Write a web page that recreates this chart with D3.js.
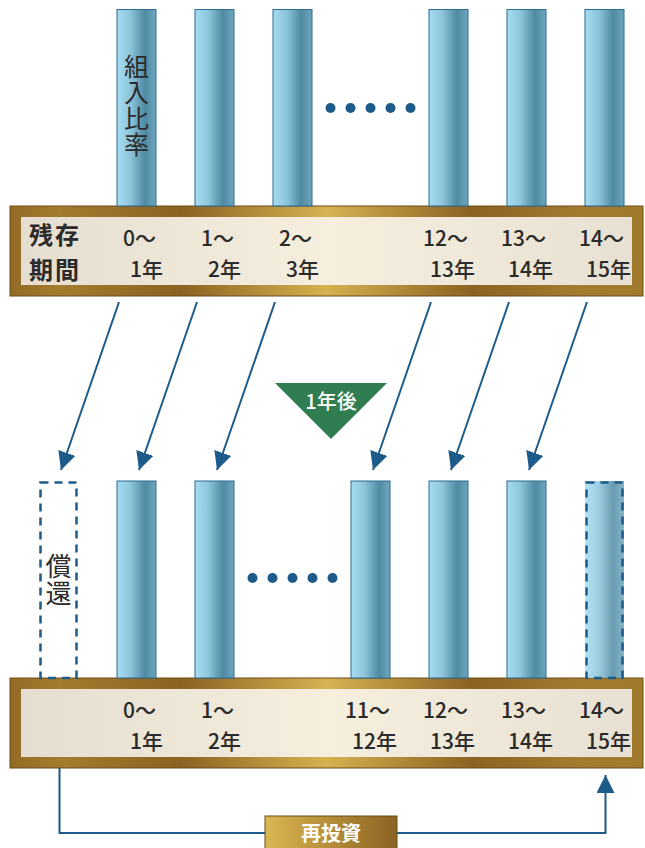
<!DOCTYPE html>
<html>
<head>
<meta charset="utf-8">
<script src="https://cdn.jsdelivr.net/npm/d3@7"></script>
<style>
  body { margin: 0; background: #fff; }
  svg { display: block; font-family: "Noto Sans CJK JP", "Noto Sans", sans-serif; }
</style>
</head>
<body>
<div id="chart"></div>
<script>
// slot index -> maturity bucket
var topSlots = [1, 2, 3, 5, 6, 7]
var topFrom = ['0～', '1～', '2～', '12～', '13～', '14～']
var topTo = ['1年', '2年', '3年', '13年', '14年', '15年']
var topWeights = [1, 1, 1, 1, 1, 1]

var bottomSlots = [1, 2, 4, 5, 6]
var bottomFrom = ['0～', '1～', '11～', '12～', '13～', '14～']
var bottomTo = ['1年', '2年', '12年', '13年', '14年', '15年']
var bottomLabelSlots = [1, 2, 4, 5, 6, 7]
var bottomWeights = [1, 1, 1, 1, 1]

var redeemSlot = 0
var reinvestSlot = 7
var arrowFrom = [1, 2, 3, 5, 6, 7]
var dotCount = 5

var width = 645
var height = 848
var barW = 39

var x = d3.scaleLinear().domain([0, 1]).range([39, 117])
var yTop = d3.scaleLinear().domain([0, 1]).range([206, 9.5])
var yBot = d3.scaleLinear().domain([0, 1]).range([678, 481])

var svg = d3.select('#chart').append('svg')
  .attr('width', width)
  .attr('height', height)

var defs = svg.append('defs')

function hGrad (id, stops) {
  defs.append('linearGradient')
    .attr('id', id)
    .attr('x1', '0%').attr('y1', '0%')
    .attr('x2', '100%').attr('y2', '0%')
    .selectAll('stop')
    .data(stops)
    .enter().append('stop')
    .attr('offset', function (d) { return d[0] })
    .attr('stop-color', function (d) { return d[1] })
}

hGrad('bar', [[0, '#a6ddf3'], [0.35, '#8cc4da'], [0.72, '#4f8aa3'], [1, '#6ea7be']])
hGrad('gold', [[0, '#946b26'], [0.08, '#a47c2f'], [0.27, '#8a6322'], [0.5, '#d6b251'], [0.73, '#8a6322'], [0.9, '#a47c30'], [1, '#a07a2d']])
hGrad('panel', [[0, '#e5ddd0'], [0.5, '#f6efde'], [1, '#e8e0d2']])
hGrad('btn', [[0, '#dbb753'], [0.5, '#b48c38'], [1, '#8a6424']])

defs.append('marker')
  .attr('id', 'head')
  .attr('viewBox', '0 0 10 10')
  .attr('refX', 10).attr('refY', 5)
  .attr('markerWidth', 18).attr('markerHeight', 18)
  .attr('markerUnits', 'userSpaceOnUse')
  .attr('orient', 'auto')
  .append('path')
  .attr('d', 'M0,0 L10,5 L0,10 Z')
  .attr('fill', '#1d5b8a')

var blue = '#1d5b8a'

// ---- bands
function band (y0) {
  var g = svg.append('g')
  g.append('rect')
    .attr('x', 10).attr('y', y0)
    .attr('width', 633).attr('height', 90)
    .attr('fill', 'url(#gold)')
    .attr('stroke', '#6e4d14').attr('stroke-width', 1)
  g.append('rect')
    .attr('x', 21).attr('y', y0 + 11)
    .attr('width', 611).attr('height', 68)
    .attr('fill', 'url(#panel)')
  return g
}

var topBand = band(206)
var botBand = band(678)

// ---- top bars
svg.append('g').selectAll('rect')
  .data(topWeights)
  .enter().append('rect')
  .attr('x', function (d, i) { return x(topSlots[i]) })
  .attr('y', function (d) { return yTop(d) })
  .attr('width', barW)
  .attr('height', function (d) { return yTop(0) - yTop(d) })
  .attr('fill', 'url(#bar)')
  .attr('stroke', '#2e6a92')
  .attr('stroke-width', 1)

// ---- bottom bars
svg.append('g').selectAll('rect')
  .data(bottomWeights)
  .enter().append('rect')
  .attr('x', function (d, i) { return x(bottomSlots[i]) })
  .attr('y', function (d) { return yBot(d) })
  .attr('width', barW)
  .attr('height', function (d) { return yBot(0) - yBot(d) })
  .attr('fill', 'url(#bar)')
  .attr('stroke', '#2e6a92')
  .attr('stroke-width', 1)

// redeemed (empty dashed)
svg.append('rect')
  .attr('x', x(redeemSlot) + 1.5).attr('y', yBot(1) + 1.5)
  .attr('width', barW - 3).attr('height', yBot(0) - yBot(1) - 1.5)
  .attr('fill', 'none')
  .attr('stroke', blue).attr('stroke-width', 2.5)
  .attr('stroke-dasharray', '8,6')

// reinvested (filled dashed)
svg.append('rect')
  .attr('x', x(reinvestSlot)).attr('y', yBot(1))
  .attr('width', barW).attr('height', yBot(0) - yBot(1))
  .attr('fill', 'url(#bar)').attr('opacity', 0.85)
svg.append('rect')
  .attr('x', x(reinvestSlot) + 1.5).attr('y', yBot(1) + 1.5)
  .attr('width', barW - 3).attr('height', yBot(0) - yBot(1) - 1.5)
  .attr('fill', 'none')
  .attr('stroke', blue).attr('stroke-width', 2.5)
  .attr('stroke-dasharray', '8,6')

// vertical texts
function vText (cx, y0, label, size) {
  svg.append('text')
    .attr('x', cx)
    .attr('y', y0)
    .attr('font-size', size)
    .attr('fill', '#2b2b2b')
    .style('writing-mode', 'vertical-rl')
    .style('text-orientation', 'upright')
    .style('letter-spacing', '1px')
    .text(label)
}
vText(x(1) + barW / 2, 54, '組入比率', 25)
vText(x(redeemSlot) + barW / 2, 553, '償還', 26)

// dots
svg.append('g').selectAll('circle')
  .data(d3.range(dotCount))
  .enter().append('circle')
  .attr('cx', function (d) { return x(4) + barW / 2 + (d - 2) * 20 })
  .attr('cy', 108)
  .attr('r', 5)
  .attr('fill', blue)
svg.append('g').selectAll('circle')
  .data(d3.range(dotCount))
  .enter().append('circle')
  .attr('cx', function (d) { return x(3) + barW / 2 + (d - 2) * 20 })
  .attr('cy', 578)
  .attr('r', 5)
  .attr('fill', blue)

// band heading (two lines)
var head = topBand.append('text')
  .attr('font-size', 24).attr('font-weight', 'bold').attr('fill', '#2b2b2b')
  .style('letter-spacing', '2px')
head.append('tspan').attr('x', 29).attr('y', 244).text('残存')
head.append('tspan').attr('x', 29).attr('y', 279).text('期間')

function bandLabels (g, slots, from, to, y1) {
  g.selectAll('.from')
    .data(from)
    .enter().append('text')
    .attr('x', function (d, i) { return x(slots[i]) + 39 })
    .attr('y', y1)
    .attr('text-anchor', 'end')
    .attr('font-size', 21).attr('font-weight', 500).attr('fill', '#2b2b2b')
    .text(function (d) { return d })
  g.selectAll('.to')
    .data(to)
    .enter().append('text')
    .attr('x', function (d, i) { return x(slots[i]) + 46 })
    .attr('y', y1 + 30.5)
    .attr('text-anchor', 'end')
    .attr('font-size', 21).attr('font-weight', 500).attr('fill', '#2b2b2b')
    .text(function (d) { return d })
}
bandLabels(topBand, topSlots, topFrom, topTo, 246)
bandLabels(botBand, bottomLabelSlots, bottomFrom, bottomTo, 718)

// aging arrows
svg.append('g').selectAll('line')
  .data(arrowFrom)
  .enter().append('line')
  .attr('x1', function (d) { return x(d) + 2 })
  .attr('y1', 302)
  .attr('x2', function (d) { return x(d - 1) + 22 })
  .attr('y2', 470)
  .attr('stroke', blue)
  .attr('stroke-width', 2)
  .attr('marker-end', 'url(#head)')

// 1年後 triangle
svg.append('path')
  .attr('d', 'M275,383 L387,383 L331,439 Z')
  .attr('fill', '#2f7d50')
svg.append('text')
  .attr('x', 331).attr('y', 409)
  .attr('text-anchor', 'middle')
  .attr('font-size', 20).attr('font-weight', 500).attr('fill', '#fff')
  .text('1年後')

// reinvest loop
var lx0 = x(redeemSlot) + barW / 2 + 1
var lx1 = x(reinvestSlot) + barW / 2 + 1
svg.append('path')
  .attr('d', 'M' + lx0 + ',768 V833 H' + lx1 + ' V775')
  .attr('fill', 'none')
  .attr('stroke', blue)
  .attr('stroke-width', 2)
  .attr('marker-end', 'url(#head)')

svg.append('rect')
  .attr('x', 265).attr('y', 816)
  .attr('width', 132).attr('height', 40)
  .attr('fill', 'url(#btn)')
  .attr('stroke', '#6b4c12').attr('stroke-width', 1)
svg.append('text')
  .attr('x', 331).attr('y', 841)
  .attr('text-anchor', 'middle')
  .attr('font-size', 20).attr('font-weight', 'bold').attr('fill', '#fff')
  .text('再投資')
</script>
</body>
</html>
